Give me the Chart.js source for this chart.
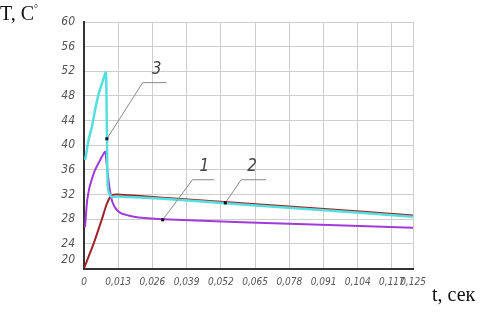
<!DOCTYPE html>
<html>
<head>
  <script src="https://cdn.jsdelivr.net/npm/chart.js"></script>
  <style>
    body { margin: 0; background: #fff; }
    .wrap { position: relative; width: 483px; height: 312px; }
    canvas { position: absolute; left: 0; top: 0; }
    .ttl { position: absolute; font-family: 'Liberation Serif', 'DejaVu Serif', serif; color: #111; font-size: 20px; white-space: nowrap; }
    .ttl sup { font-size: 10px; }
  </style>
</head>
<body>
  <div class="wrap">
    <canvas id="c" width="483" height="312"></canvas>
    <div class="ttl" style="left:0; top:2px;">T, C<sup>°</sup></div>
    <div class="ttl" style="top:283px; left:432px;">t, сек</div>
  </div>
  <script>
    // axis ticks
    const xTicks = [0, 0.013, 0.026, 0.039, 0.052, 0.065, 0.078, 0.091, 0.104, 0.117, 0.125];
    const yTicks = [20, 24, 28, 32, 36, 40, 44, 48, 52, 56, 60];

    // curve 3 (cyan)
    const t3 = [0.0004, 0.0008, 0.0018, 0.003, 0.0042, 0.0053, 0.0068, 0.0083, 0.0086, 0.0088, 0.009, 0.0095, 0.0105, 0.0125, 0.03, 0.06, 0.09, 0.125];
    const T3 = [37.6, 38.5, 41.0, 43.0, 45.7, 47.9, 50.0, 51.8, 46, 38, 33.5, 32.2, 31.6, 31.7, 31.3, 30.4, 29.5, 28.4];
    // curve 2 (red)
    const t2 = [0, 0.002, 0.0038, 0.0068, 0.0085, 0.0098, 0.011, 0.0125, 0.03, 0.06, 0.09, 0.125];
    const T2 = [20, 22.2, 24.2, 28, 30.3, 31.5, 31.95, 32.0, 31.5, 30.6, 29.7, 28.6];
    // curve 1 (purple)
    const t1 = [0.0004, 0.0008, 0.0012, 0.002, 0.003, 0.0042, 0.006, 0.008, 0.0085, 0.009, 0.0098, 0.0105, 0.0115, 0.0125, 0.014, 0.016, 0.019, 0.023, 0.03, 0.06, 0.09, 0.125];
    const T1 = [26.7, 29.0, 31.0, 33.0, 34.5, 36.0, 37.5, 39.0, 37.5, 35.5, 32.8, 31.2, 30.1, 29.5, 29.0, 28.7, 28.4, 28.2, 28.0, 27.5, 27.1, 26.6];

    // leader labels: text, dot, elbow, end, text position (data units)
    const labelText = ['3', '1', '2'];
    const labelDot = [[0.0087, 41.05], [0.0299, 27.9], [0.0537, 30.65]];
    const labelElbow = [[0.0223, 50.16], [0.0412, 34.4], [0.0597, 34.4]];
    const labelEnd = [[0.0314, 50.16], [0.0495, 34.4], [0.0692, 34.4]];
    const labelPos = [[0.0276, 52.3], [0.0457, 36.5], [0.0639, 36.5]];

    const pts = (xs, ys) => xs.map((x, i) => ({ x, y: ys[i] }));
    const fam = "'Liberation Sans Narrow', 'DejaVu Sans Condensed', sans-serif";

    const extras = {
      id: 'extras',
      afterDraw(chart) {
        const { ctx, scales: { x, y } } = chart;
        ctx.save();
        // "20" label sits a bit above the axis
        ctx.font = 'italic 12px ' + fam;
        ctx.fillStyle = '#555';
        ctx.textAlign = 'right';
        ctx.textBaseline = 'middle';
        ctx.fillText('20', x.left - 9, y.getPixelForValue(20) - 9);
        // leader lines
        labelText.forEach((txt, i) => {
          const px = p => [x.getPixelForValue(p[0]), y.getPixelForValue(p[1])];
          const d = px(labelDot[i]), e = px(labelElbow[i]), f = px(labelEnd[i]), tp = px(labelPos[i]);
          ctx.strokeStyle = '#8a8a8a';
          ctx.lineWidth = 1;
          ctx.beginPath();
          ctx.moveTo(d[0], d[1]); ctx.lineTo(e[0], e[1]); ctx.lineTo(f[0], f[1]);
          ctx.stroke();
          ctx.fillStyle = '#111';
          ctx.fillRect(d[0] - 1.5, d[1] - 1.5, 3, 3);
          ctx.font = 'italic 17px ' + fam;
          ctx.fillStyle = '#444';
          ctx.textAlign = 'center';
          ctx.fillText(txt, tp[0], tp[1]);
        });
        ctx.restore();
      }
    };

    new Chart(document.getElementById('c'), {
      type: 'line',
      data: {
        datasets: [
          { data: pts(t3, T3), borderColor: '#55dede', borderWidth: 2.5, tension: 0.15 },
          { data: pts(t1, T1), borderColor: '#a03ad8', borderWidth: 2, tension: 0.2 },
          { data: pts(t2, T2), borderColor: '#9c2228', borderWidth: 2, tension: 0.2 }
        ]
      },
      options: {
        responsive: false,
        animation: false,
        events: [],
        elements: { point: { radius: 0 } },
        layout: { padding: { top: 22, right: 70, left: 0, bottom: 0 } },
        plugins: { legend: { display: false }, tooltip: { enabled: false } },
        scales: {
          x: {
            type: 'linear', min: 0, max: 0.125,
            afterBuildTicks: s => { s.ticks = xTicks.map(v => ({ value: v })); },
            afterFit: s => { s.height = 43.5; },
            grid: { color: '#cdcdcd', drawTicks: false },
            border: { color: '#333', width: 2 },
            ticks: { font: { family: fam, style: 'italic', size: 10 }, color: '#555', padding: 8, maxRotation: 0, autoSkip: false,
              callback: v => v === 0 ? '0' : v.toFixed(3).replace('.', ',') }
          },
          y: {
            min: 20, max: 60,
            afterBuildTicks: s => { s.ticks = yTicks.map(v => ({ value: v })); },
            afterFit: s => { s.width = 84; },
            grid: { color: '#cdcdcd', drawTicks: false },
            border: { color: '#333', width: 2 },
            ticks: { font: { family: fam, style: 'italic', size: 12 }, color: '#555', padding: 9, callback: v => v === 20 ? '' : v }
          }
        }
      },
      plugins: [extras]
    });
  </script>
</body>
</html>
